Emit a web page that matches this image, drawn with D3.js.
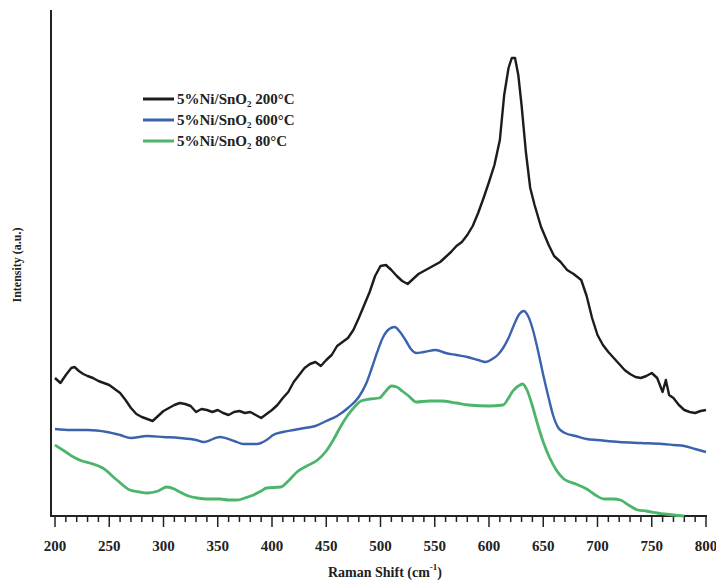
<!DOCTYPE html>
<html>
<head>
<meta charset="utf-8">
<script src="https://cdn.jsdelivr.net/npm/d3@7"></script>
<style>
  body { margin: 0; background: #fff; }
  text { font-family: "Liberation Serif", "Times New Roman", serif; }
</style>
</head>
<body>
<svg id="chart" width="716" height="581"></svg>
<script>
// Raman shift (cm-1) and intensity (a.u.)
var shift200 = [200,205,210,215,218,222,226,230,235,240,245,250,255,260,265,270,275,280,285,290,295,300,305,310,315,320,325,330,335,340,345,350,355,360,365,370,375,380,385,390,395,400,405,410,415,420,425,430,435,440,445,450,455,460,465,470,475,480,485,490,495,500,505,510,515,520,525,530,535,540,545,550,555,560,565,570,575,580,585,590,595,600,605,610,614,618,621,624,627,630,634,638,642,648,655,660,666,672,678,685,690,695,700,705,710,715,720,725,730,735,740,745,750,755,760,763,766,770,775,780,785,790,795,800];
var int200 = [137,132,140,147,148,144,141,139,137,134,132,130,126,122,115,107,101,98,96,94,99,104,107,110,112,111,109,103,106,105,103,105,102,100,103,104,102,103,100,97,101,105,110,117,123,133,140,147,151,153,149,155,160,169,173,177,185,197,210,223,239,249,250,245,239,234,231,236,241,244,247,250,253,258,263,269,273,280,289,302,317,333,350,375,420,447,457,457,440,410,363,327,310,288,270,259,253,245,241,235,219,197,180,170,163,157,151,145,141,138,137,139,142,137,123,135,120,117,110,105,103,102,104,105];

var shift600 = [200,215,230,248,260,270,285,300,315,330,337,352,365,374,386,395,401,410,420,430,440,450,460,470,480,487,492,497,502,508,513,518,523,528,533,540,551,560,570,580,590,597,603,608,613,618,623,628,632,636,640,645,650,655,659,664,670,680,690,700,720,740,760,770,780,790,800];
var int600 = [86,85,85,83,80,77,79,78,77,75,73,78,74,71,71,75,80,83,85,87,89,94,99,107,118,132,147,163,177,186,188,183,175,166,162,163,165,162,160,158,155,153,156,160,167,177,190,201,204,199,187,165,140,117,100,87,82,79,76,75,73,72,71,70,69,66,63];

var shift80 = [200,210,217,225,232,244,257,269,278,285,295,303,310,315,323,331,340,352,360,368,375,383,390,395,408,415,423,432,442,450,457,463,470,476,482,490,499,505,510,515,520,526,533,545,556,570,581,600,613,618,622,627,631,635,640,645,650,656,662,669,680,690,698,706,715,721,730,737,745,755,762,770,780];
var int80 = [70,63,58,54,52,47,35,25,23,22,24,28,26,23,19,17,16,16,15,15,17,20,24,27,28,34,43,49,55,64,76,88,100,108,114,116,117,124,129,128,124,119,113,114,114,112,110,109,110,117,124,129,131,125,109,90,73,57,45,36,31,26,20,16,16,15,9,5,4,2,1,0,-1];

var seriesNames = ["5%Ni/SnO\u2082 200\u00b0C", "5%Ni/SnO\u2082 600\u00b0C", "5%Ni/SnO\u2082 80\u00b0C"];
var seriesColors = ["#1c1c1c", "#3a62ad", "#4db56b"];
var xTicks = [200,250,300,350,400,450,500,550,600,650,700,750,800];

var series = [
  { name: seriesNames[0], color: seriesColors[0], width: 2.4, smooth: false, pts: shift200.map((s, i) => [s, int200[i]]) },
  { name: seriesNames[1], color: seriesColors[1], width: 2.4, smooth: true, pts: shift600.map((s, i) => [s, int600[i]]) },
  { name: seriesNames[2], color: seriesColors[2], width: 2.8, smooth: true, pts: shift80.map((s, i) => [s, int80[i]]) }
];

var svg = d3.select("#chart");

var x = d3.scaleLinear().domain([200, 800]).range([55, 706]);
var y = d3.scaleLinear().domain([0, 505]).range([515, 10]);

// axes lines
svg.append("line")
  .attr("x1", 51).attr("x2", 51).attr("y1", 10).attr("y2", 516)
  .attr("stroke", "#222").attr("stroke-width", 2);
svg.append("line")
  .attr("x1", 50).attr("x2", 707).attr("y1", 516).attr("y2", 516)
  .attr("stroke", "#222").attr("stroke-width", 2);

// ticks: minor every 10, major every 50
var g = svg.append("g");
g.selectAll("line.minor")
  .data(d3.range(200, 801, 10))
  .enter()
  .append("line")
  .attr("x1", d => x(d)).attr("x2", d => x(d))
  .attr("y1", 516)
  .attr("y2", d => d % 50 === 0 ? 527 : 522)
  .attr("stroke", "#222")
  .attr("stroke-width", 1.5);

g.selectAll("text.tick")
  .data(xTicks)
  .enter()
  .append("text")
  .attr("x", d => x(d))
  .attr("y", 551)
  .attr("text-anchor", "middle")
  .attr("font-size", "15px")
  .attr("font-weight", "bold")
  .attr("fill", "#222")
  .text(d => d);

// axis titles
var xt = svg.append("text")
  .attr("x", 385).attr("y", 577)
  .attr("text-anchor", "middle")
  .attr("font-size", "14px")
  .attr("font-weight", "bold")
  .attr("fill", "#222");
xt.append("tspan").text("Raman Shift (cm");
xt.append("tspan").attr("dy", -7).attr("font-size", "9px").text("-1");
xt.append("tspan").attr("dy", 7).text(")");

svg.append("text")
  .attr("transform", "translate(21,265) rotate(-90)")
  .attr("text-anchor", "middle")
  .attr("font-size", "12px")
  .attr("font-weight", "bold")
  .attr("fill", "#222")
  .text("Intensity (a.u.)");

// curves
var lineSharp = d3.line()
  .x(d => x(d[0]))
  .y(d => y(d[1]));
var lineSmooth = d3.line()
  .x(d => x(d[0]))
  .y(d => y(d[1]))
  .curve(d3.curveMonotoneX);

svg.append("g")
  .selectAll("path")
  .data(series.slice().reverse())
  .enter()
  .append("path")
  .attr("d", d => (d.smooth ? lineSmooth : lineSharp)(d.pts))
  .attr("fill", "none")
  .attr("stroke", d => d.color)
  .attr("stroke-width", d => d.width)
  .attr("stroke-linejoin", "round");

// legend
var leg = svg.append("g")
  .selectAll("g")
  .data(series)
  .enter()
  .append("g")
  .attr("transform", (d, i) => "translate(143," + (99 + i * 21) + ")");

leg.append("line")
  .attr("x1", 0).attr("x2", 31)
  .attr("stroke", d => d.color)
  .attr("stroke-width", 3);

leg.append("text")
  .attr("x", 34).attr("y", 5)
  .attr("font-size", "15px")
  .attr("font-weight", "bold")
  .attr("fill", "#222")
  .text(d => d.name);
</script>
</body>
</html>
